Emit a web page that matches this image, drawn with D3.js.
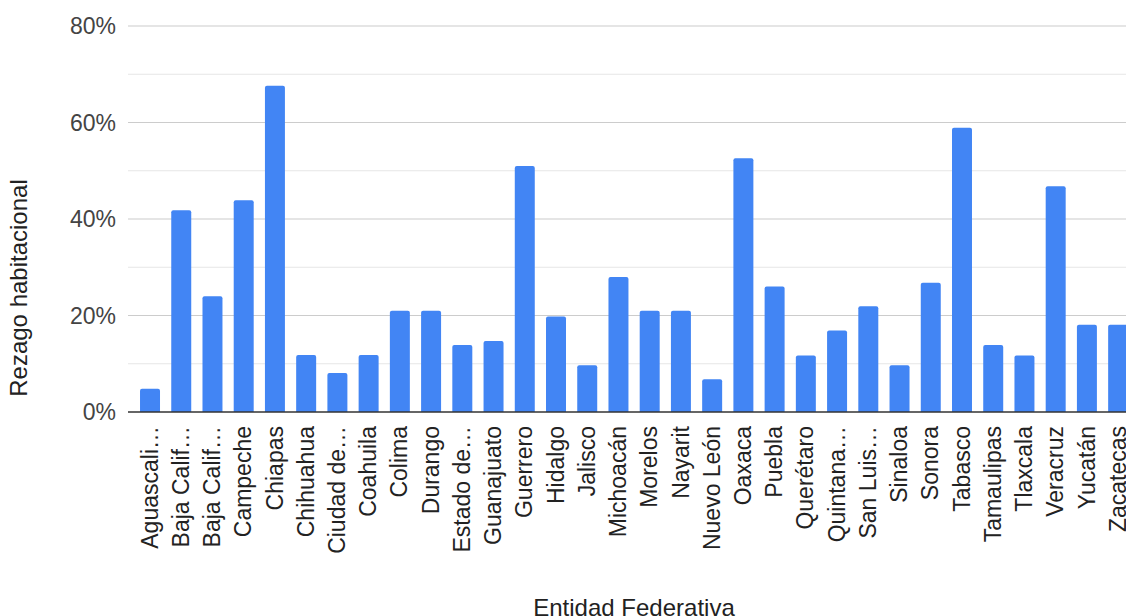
<!DOCTYPE html>
<html>
<head>
<meta charset="utf-8">
<script src="https://cdn.jsdelivr.net/npm/d3@7"></script>
<style>
  html, body { margin: 0; padding: 0; background: #fff; }
  svg { display: block; font-family: "Liberation Sans", Arial, sans-serif; }
</style>
</head>
<body>
<svg id="chart" width="1126" height="616"></svg>
<script>
const categories = [
  "Aguascalientes", "Baja California", "Baja California Sur", "Campeche", "Chiapas",
  "Chihuahua", "Ciudad de México", "Coahuila", "Colima", "Durango",
  "Estado de México", "Guanajuato", "Guerrero", "Hidalgo", "Jalisco",
  "Michoacán", "Morelos", "Nayarit", "Nuevo León", "Oaxaca",
  "Puebla", "Querétaro", "Quintana Roo", "San Luis Potosí", "Sinaloa",
  "Sonora", "Tabasco", "Tamaulipas", "Tlaxcala", "Veracruz",
  "Yucatán", "Zacatecas"
];
const tickLabels = [
  "Aguascali…", "Baja Calif…", "Baja Calif…", "Campeche", "Chiapas",
  "Chihuahua", "Ciudad de…", "Coahuila", "Colima", "Durango",
  "Estado de…", "Guanajuato", "Guerrero", "Hidalgo", "Jalisco",
  "Michoacán", "Morelos", "Nayarit", "Nuevo León", "Oaxaca",
  "Puebla", "Querétaro", "Quintana…", "San Luis…", "Sinaloa",
  "Sonora", "Tabasco", "Tamaulipas", "Tlaxcala", "Veracruz",
  "Yucatán", "Zacatecas"
];
// Rezago habitacional (fraction)
const values = [
  0.048, 0.418, 0.240, 0.439, 0.676,
  0.118, 0.081, 0.118, 0.210, 0.210,
  0.139, 0.147, 0.510, 0.198, 0.097,
  0.280, 0.210, 0.210, 0.068, 0.526,
  0.260, 0.117, 0.169, 0.219, 0.097,
  0.268, 0.589, 0.139, 0.117, 0.468,
  0.181, 0.181
];
const yTicks = [0, 0.2, 0.4, 0.6, 0.8];
const yMinor = [0.1, 0.3, 0.5, 0.7];
const xTitle = "Entidad Federativa";
const yTitle = "Rezago habitacional";

const svg = d3.select("#chart");
const W = 1126;
const plotLeft = 128, plotTop = 26, plotBottom = 412;

const y = d3.scaleLinear().domain([0, 0.8]).range([plotBottom, plotTop]);
const x = d3.scaleBand()
  .domain(categories)
  .range([134.4, 134.4 + 32 * 31.23])
  .paddingInner(0.36)
  .paddingOuter(0.18);

// minor gridlines
svg.append("g").selectAll("line").data(yMinor).join("line")
  .attr("x1", plotLeft).attr("x2", W)
  .attr("y1", d => y(d)).attr("y2", d => y(d))
  .attr("stroke", "#e6e6e6").attr("stroke-width", 1.2);

// major gridlines
svg.append("g").selectAll("line").data(yTicks.filter(d => d > 0)).join("line")
  .attr("x1", plotLeft).attr("x2", W)
  .attr("y1", d => y(d)).attr("y2", d => y(d))
  .attr("stroke", "#cccccc").attr("stroke-width", 1.2);

// y tick labels
const fmt = d3.format(".0%");
svg.append("g").selectAll("text").data(yTicks).join("text")
  .attr("x", 116).attr("y", d => y(d)).attr("dy", "0.35em")
  .attr("text-anchor", "end")
  .attr("font-size", 23).attr("fill", "#444")
  .text(d => fmt(d));

// bars
svg.append("g").selectAll("path").data(values).join("path")
  .attr("fill", "#4285f4")
  .attr("d", (d, i) => {
    const x0 = x(categories[i]), w = x.bandwidth();
    const y0 = y(d), y1 = y(0), r = 2;
    return `M${x0},${y1}V${y0 + r}Q${x0},${y0} ${x0 + r},${y0}H${x0 + w - r}Q${x0 + w},${y0} ${x0 + w},${y0 + r}V${y1}Z`;
  });

// baseline
svg.append("line")
  .attr("x1", plotLeft).attr("x2", W)
  .attr("y1", y(0)).attr("y2", y(0))
  .attr("stroke", "#333").attr("stroke-width", 1.5);

// x tick labels
svg.append("g").selectAll("text").data(categories).join("text")
  .attr("transform", (d) => `translate(${x(d) + x.bandwidth() / 2},426) rotate(-90)`)
  .attr("dy", "0.33em")
  .attr("text-anchor", "end")
  .attr("font-size", 23).attr("fill", "#222")
  .text((d, i) => tickLabels[i]);

// axis titles
svg.append("text")
  .attr("x", 634).attr("y", 616)
  .attr("text-anchor", "middle")
  .attr("font-size", 24).attr("fill", "#222")
  .text(xTitle);

svg.append("text")
  .attr("transform", "translate(27,288) rotate(-90)")
  .attr("text-anchor", "middle")
  .attr("font-size", 24).attr("fill", "#222")
  .text(yTitle);
</script>
</body>
</html>
